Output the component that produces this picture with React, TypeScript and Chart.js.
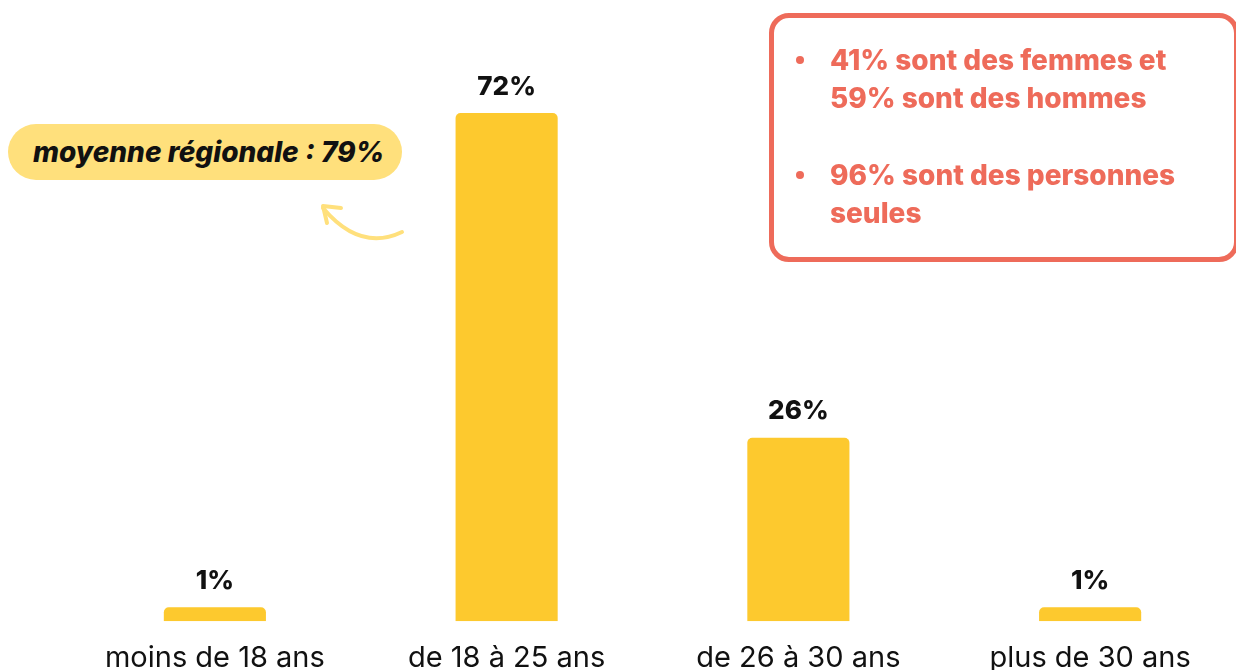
import React, { useEffect, useRef } from "react";
import { Chart, registerables } from "chart.js";

Chart.register(...registerables);

const categories: string[] = ["moins de 18 ans", "de 18 à 25 ans", "de 26 à 30 ans", "plus de 30 ans"];
const values: number[] = [1, 72, 26, 1];
const valueLabels: string[] = ["1%", "72%", "26%", "1%"];
const calloutText = "moyenne régionale : 79%";
const bulletLines: string[][] = [
  ["41% sont des femmes et", "59% sont des hommes"],
  ["96% sont des personnes", "seules"],
];

const FONT = "Inter, 'Noto Sans', sans-serif";
const BAR = "#FDC92E";
const RED = "#EE6B5A";
const PILL = "#FFE07C";

const valueLabelPlugin = {
  id: "valueLabels",
  afterDatasetsDraw(chart: any) {
    const ctx = chart.ctx;
    const meta = chart.getDatasetMeta(0);
    ctx.save();
    ctx.font = `800 26px ${FONT}`;
    ctx.fillStyle = "#111111";
    ctx.textAlign = "center";
    ctx.textBaseline = "bottom";
    meta.data.forEach((el: any, i: number) => {
      ctx.fillText(valueLabels[i], el.x, el.y - 13);
    });
    ctx.restore();
  },
};

export default function App() {
  const ref = useRef<HTMLCanvasElement | null>(null);

  useEffect(() => {
    if (!ref.current) return;
    const chart = new Chart(ref.current, {
      type: "bar",
      data: {
        labels: categories,
        datasets: [
          {
            data: values,
            backgroundColor: BAR,
            borderRadius: { topLeft: 5, topRight: 5, bottomLeft: 0, bottomRight: 0 },
            borderSkipped: false,
            barPercentage: 0.35,
            categoryPercentage: 1,
            minBarLength: 14,
          },
        ],
      },
      options: {
        animation: false,
        responsive: false,
        maintainAspectRatio: false,
        layout: { padding: { left: 69, right: 0, top: 0, bottom: -18 } },
        plugins: { legend: { display: false }, tooltip: { enabled: false } },
        scales: {
          y: { display: false, min: 0, max: 88 },
          x: {
            grid: { display: false },
            border: { display: false },
            ticks: {
              color: "#111111",
              font: { family: FONT, size: 29, weight: 400 },
              padding: 12,
              maxRotation: 0,
            },
          },
        },
      },
      plugins: [valueLabelPlugin],
    });
    return () => chart.destroy();
  }, []);

  return (
    <div style={{ position: "absolute", left: 0, top: 0, width: 1236, height: 670, background: "#fff", overflow: "hidden", fontFamily: FONT }}>
      <canvas ref={ref} width={1236} height={670} style={{ position: "absolute", left: 0, top: 0 }} />
      <div
        style={{
          position: "absolute",
          left: 8,
          top: 124,
          width: 394,
          height: 56,
          borderRadius: 28,
          background: PILL,
          boxSizing: "border-box",
          paddingLeft: 25,
          display: "flex",
          alignItems: "center",
          fontWeight: 800,
          fontStyle: "italic",
          fontSize: 28,
          color: "#111",
          whiteSpace: "nowrap",
        }}
      >
        {calloutText}
      </div>
      <svg width={1236} height={670} style={{ position: "absolute", left: 0, top: 0, pointerEvents: "none" }}>
        <path d="M402 232 Q360 252 323 208" fill="none" stroke={PILL} strokeWidth={4} strokeLinecap="round" />
        <path d="M341 208 L323 206 L327 223" fill="none" stroke={PILL} strokeWidth={4} strokeLinecap="round" strokeLinejoin="round" />
      </svg>
      <div
        style={{
          position: "absolute",
          left: 769,
          top: 13,
          width: 470,
          height: 249,
          border: `5px solid ${RED}`,
          borderRadius: 20,
          boxSizing: "border-box",
        }}
      />
      {bulletLines.map((lines, bi) => (
        <div key={bi} style={{ position: "absolute", left: 796, top: bi === 0 ? 41 : 156, color: RED, fontWeight: 800, fontSize: 28, lineHeight: "38px", whiteSpace: "nowrap" }}>
          <div style={{ position: "absolute", left: 0, top: 15, width: 8, height: 8, borderRadius: 4, background: RED }} />
          {lines.map((l, li) => (
            <div key={li} style={{ paddingLeft: 34 }}>{l}</div>
          ))}
        </div>
      ))}
    </div>
  );
}
